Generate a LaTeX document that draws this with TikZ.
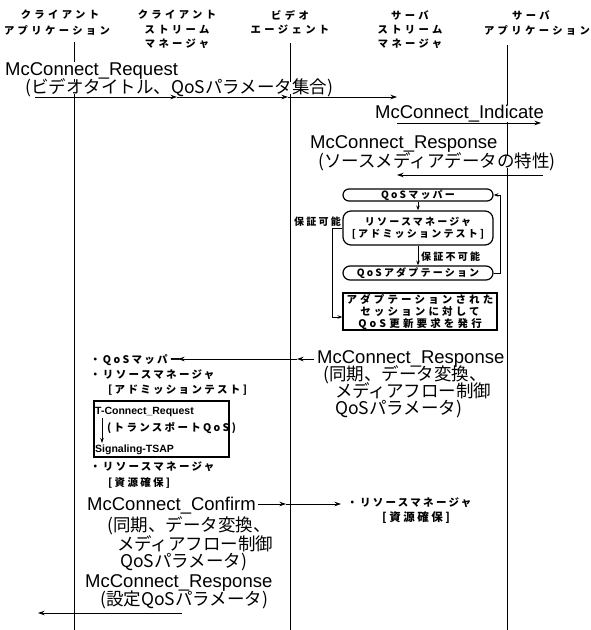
\documentclass[tikz,border=0pt]{standalone}
\usepackage{fontspec}
\setmainfont{Liberation Sans}
\newfontfamily\jpf{Noto Sans CJK JP}
\newfontfamily\jpsm[LetterSpace=22]{Noto Sans CJK JP}
\newfontfamily\jpbot[LetterSpace=30]{Noto Sans CJK JP}
\newfontfamily\jphd[LetterSpace=33]{Noto Sans CJK JP}
\usetikzlibrary{arrows.meta}
\tikzset{
  lifeline/.style={line width=1pt},
  arr/.style={line width=0.9pt,-{Stealth[length=6.5pt,width=4.5pt]}},
  arrs/.style={line width=0.8pt,-{Stealth[length=5pt,width=3.5pt]}},
  biglat/.style={anchor=base west, inner sep=0pt, fill=white, font=\fontsize{18.5}{20}\selectfont},
  bigjp/.style={anchor=west, inner xsep=0pt, inner ysep=-3pt, fill=white, font=\fontsize{17.5}{20}\selectfont\jpf},
  hdr/.style={inner sep=0pt, font=\fontsize{10.3}{12}\selectfont\jphd\bfseries},
  smjp/.style={anchor=west, inner sep=0pt, font=\fontsize{10.5}{12}\selectfont\jpsm\bfseries},
  smlat/.style={anchor=west, inner sep=0pt, font=\fontsize{10.5}{12}\selectfont\bfseries},
  flowbox/.style={draw, line width=1.2pt, inner sep=0pt, align=center,
    font=\fontsize{10}{12}\selectfont\jpsm\bfseries, minimum width=150pt},
}
\begin{document}
\begin{tikzpicture}[x=1pt,y=-1pt]
\useasboundingbox (0,0) rectangle (590,630);
\fill[white] (0,0) rectangle (590,630);

% lifelines
\coordinate (caT) at (74,42);  \coordinate (caB) at (74,630);
\coordinate (vaT) at (290,43); \coordinate (vaB) at (290,630);
\coordinate (saT) at (507,45); \coordinate (saB) at (507,630);
\draw[lifeline] (caT) -- (caB);
\draw[lifeline] (vaT) -- (vaB);
\draw[lifeline] (saT) -- (saB);

% headers
\node[hdr] (h1a) at (60,15) {クライアント};
\node[hdr] (h1b) at (57,30) {アプリケーション};
\node[hdr] (h2a) at (177,15) {クライアント};
\node[hdr] (h2b) at (177,30) {ストリーム};
\node[hdr] (h2c) at (177,44) {マネージャ};
\node[hdr] (h3a) at (290,15) {ビデオ};
\node[hdr] (h3b) at (290,30) {エージェント};
\node[hdr] (h4a) at (410,15) {サーバ};
\node[hdr] (h4b) at (410,30) {ストリーム};
\node[hdr] (h4c) at (410,44) {マネージャ};
\node[hdr] (h5a) at (531,15) {サーバ};
\node[hdr] (h5b) at (537,30) {アプリケーション};

% McConnect_Request
\node[biglat] (req) at (5,75) {McConnect\_Request};
\node[bigjp] (reqp) at (25,88) {(ビデオタイトル、QoSパラメータ集合)};
\coordinate (r0) at (35,97); \coordinate (r1) at (177,97);
\coordinate (r2) at (288,97); \coordinate (r3) at (397,97);
\draw[arr] (r0) -- (r1);
\draw[arr] (r1) -- (r2);
\draw[arr] (r2) -- (r3);

% McConnect_Indicate
\node[biglat] (ind) at (375,118) {McConnect\_Indicate};
\coordinate (i0) at (397,123); \coordinate (i1) at (541,123);
\draw[arr] (i0) -- (i1);

% McConnect_Response 1
\node[biglat] (resp1) at (310,148) {McConnect\_Response};
\node[bigjp] (resp1p) at (318,162) {(ソースメディアデータの特性)};
\coordinate (p0) at (543,175); \coordinate (p1) at (397,175);
\draw[arr] (p0) -- (p1);

% flow
\node[flowbox, rounded corners=6pt, minimum height=12pt] (mapper) at (418,195) {QoSマッパー};
\node[flowbox, rounded corners=8pt, minimum height=34pt] (res) at (418,228) {リソースマネージャ\\{[}アドミッションテスト{]}};
\node[flowbox, rounded corners=7pt, minimum height=14pt] (adapt) at (418,273) {QoSアダプテーション};
\node[flowbox, minimum width=154pt, minimum height=37pt, font=\fontsize{10.5}{12}\selectfont\jpbot\bfseries] (bot) at (420,311.5) {アダプテーションされた\\セッションに対して\\QoS更新要求を発行};
\draw[arrs] (mapper) -- (res);
\draw[arrs] (res) -- (adapt);
\node[smjp, font=\fontsize{10}{12}\selectfont\jpsm\bfseries] (nok) at (421,257) {保証不可能};
\node[smjp, anchor=east, font=\fontsize{10}{12}\selectfont\jpsm\bfseries] (ok) at (341,222) {保証可能};
\draw[arrs] (adapt.east) -- ++(7,0) |- (mapper.east);
\draw[arrs] (res.west) -- ++(-10,0) |- ([yshift=-5.5pt]bot.west);

% McConnect_Response 2
\node[biglat] (resp2) at (317,363) {McConnect\_Response};
\node[bigjp] (resp2a) at (323,375) {(同期、データ変換、};
\node[bigjp] (resp2b) at (335,391) {メディアフロー制御};
\node[bigjp] (resp2c) at (335,409) {QoSパラメータ)};
\coordinate (q0) at (314,359); \coordinate (q1) at (297,359); \coordinate (q2) at (178,359);
\draw[arr] (q0) -- (q1);
\draw[arr] (q1) -- (q2);

% left block
\node[smjp] (lqm) at (90,360) {・QoSマッパー};
\node[smjp] (lrm) at (90,375) {・リソースマネージャ};
\node[smjp] (lad) at (108,390) {[アドミッションテスト]};
\node[draw, line width=1.2pt, minimum width=135pt, minimum height=56pt, inner sep=0pt] (tbox) at (161.5,429) {};
\node[smlat] (ltc) at (95,412) {T-Connect\_Request};
\node[smjp] (ltr) at (107,428) {(トランスポートQoS)};
\coordinate (ta) at (102,418); \coordinate (tb) at (102,443);
\draw[arrs] (ta) -- (tb);
\node[smlat] (lsig) at (95,450) {Signaling-TSAP};
\node[smjp] (lrm2) at (90,467) {・リソースマネージャ};
\node[smjp] (lsk) at (108,483) {[資源確保]};

% McConnect_Confirm
\node[biglat] (conf) at (87,510) {McConnect\_Confirm};
\node[bigjp] (confa) at (107,526) {(同期、データ変換、};
\node[bigjp] (confb) at (117,544) {メディアフロー制御};
\node[bigjp] (confc) at (120,562) {QoSパラメータ)};
\coordinate (c0) at (258,504); \coordinate (c1) at (286,504); \coordinate (c2) at (341,504);
\draw[arr] (c0) -- (c1);
\draw[arr] (c1) -- (c2);
\node[smjp] (rrm) at (347,503) {・リソースマネージャ};
\node[smjp, font=\fontsize{11.5}{12}\selectfont\jpsm\bfseries] (rsk) at (382,518) {[資源確保]};

% McConnect_Response 3
\node[biglat] (resp3) at (85,587) {McConnect\_Response};
\node[bigjp] (resp3p) at (100,600) {(設定QoSパラメータ)};
\coordinate (e0) at (182,613); \coordinate (e1) at (38,613);
\draw[arr] (e0) -- (e1);
\end{tikzpicture}
\end{document}
